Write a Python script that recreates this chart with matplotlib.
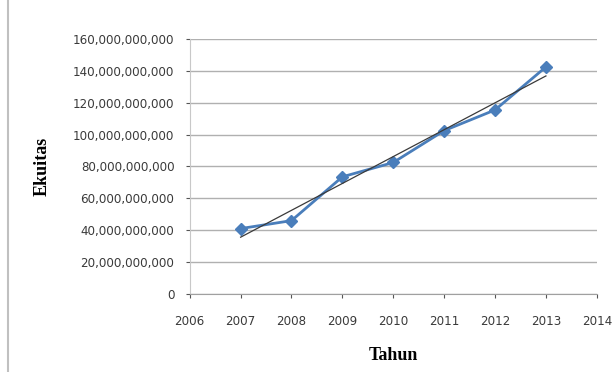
import matplotlib
matplotlib.use('Agg')
import matplotlib.pyplot as plt
from matplotlib.ticker import FuncFormatter
import numpy as np

tahun = np.array([2007, 2008, 2009, 2010, 2011, 2012, 2013])
ekuitas = np.array([41.0, 46.0, 73.5, 82.5, 102.5, 115.5, 142.5]) * 1e9

# garis tren linear
koef = np.polyfit(tahun, ekuitas, 1)
tren = np.polyval(koef, tahun)

fig = plt.figure(figsize=(6.14, 3.72), dpi=100)
ax = fig.add_axes([0.309, 0.210, 0.663, 0.685])

ax.plot(tahun, ekuitas, color='#4a7ebb', lw=2.0, marker='D', ms=6, zorder=3)
ax.plot(tahun, tren, color='#3a3a3a', lw=0.9, zorder=4)

ax.set_xlim(2006, 2014)
ax.set_ylim(0, 160e9)
ax.set_xticks(range(2006, 2015))
ax.set_yticks(np.arange(0, 160e9 + 1, 20e9))
ax.yaxis.set_major_formatter(FuncFormatter(lambda v, p: f'{int(v):,}'))
ax.grid(axis='y', color='#b0b0b0', lw=1)
ax.set_axisbelow(True)

for s in ['top', 'right']:
    ax.spines[s].set_visible(False)
ax.spines['left'].set_color('#c8c8c8')
ax.spines['bottom'].set_color('#a0a0a0')
ax.tick_params(labelsize=8.6, colors='#555555', length=3, labelcolor='#3a3a3a')
ax.tick_params(axis='x', pad=12)
ax.tick_params(axis='y', pad=8)

ax.set_xlabel('Tahun', fontsize=13, fontweight='bold', family='Liberation Serif', labelpad=14)
ax.set_ylabel('Ekuitas', fontsize=13, fontweight='bold', family='Liberation Serif', labelpad=16)

fig.add_artist(plt.Line2D([0.013, 0.013], [0.0, 1.0], color='#c0c0c0', lw=1.5))

fig.savefig('out.png', dpi=100)
